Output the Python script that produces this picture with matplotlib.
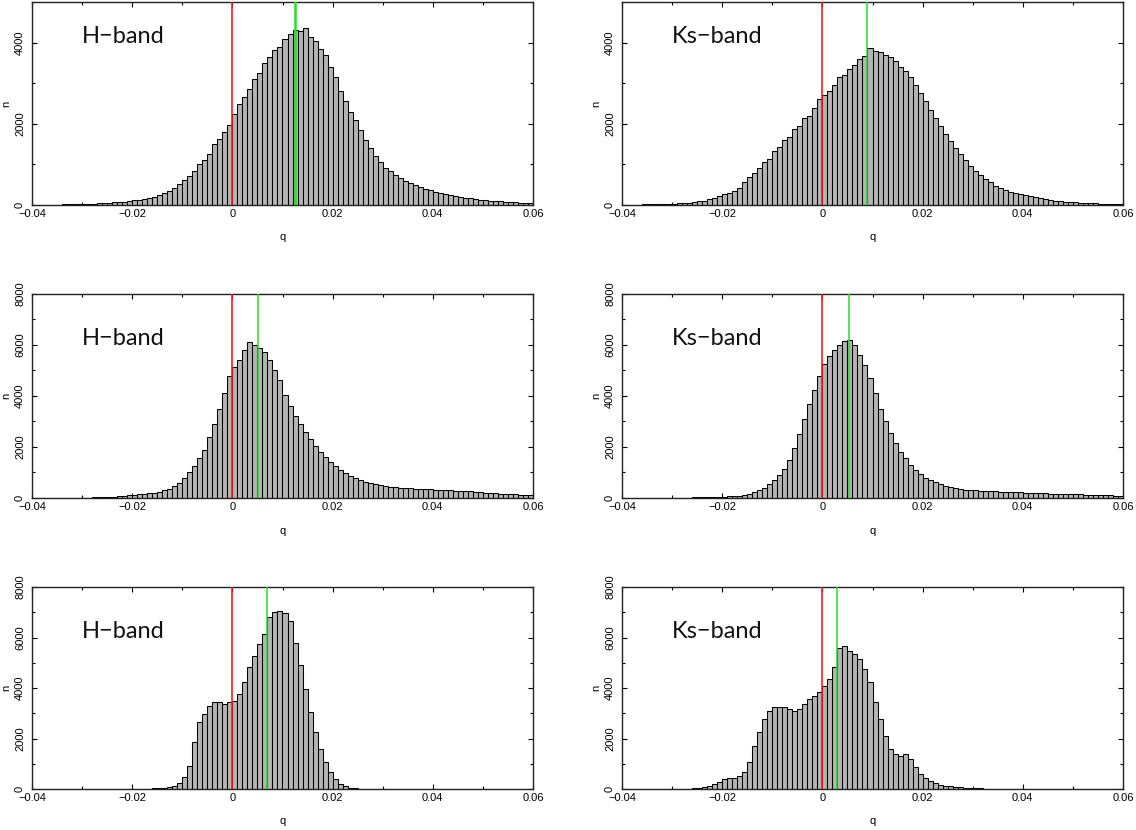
from __future__ import annotations

import numpy as np
import matplotlib
matplotlib.use("Agg")
import matplotlib.pyplot as plt

# ============================================================
# DATA  (counts per 0.001 bin, q from -0.04 to 0.06)
# ============================================================

Q_MIN = -0.04
Q_MAX = 0.06
N_BINS = 100

H_TOP = [
    5, 6, 7, 8, 10, 12, 14, 16, 19, 22,
    26, 30, 35, 42, 48, 55, 63, 72, 85, 100,
    115, 135, 155, 175, 200, 240, 290, 350, 420, 510,
    620, 720, 830, 1000, 1100, 1250, 1500, 1620, 1800, 1960,
    2250, 2480, 2650, 2850, 3100, 3250, 3500, 3650, 3830, 3900,
    4100, 4200, 4300, 4280, 4350, 4150, 4050, 3850, 3700, 3400,
    3150, 2800, 2550, 2300, 2100, 1850, 1600, 1400, 1200, 1050,
    920, 830, 740, 670, 600, 540, 490, 440, 400, 360,
    330, 300, 270, 245, 220, 200, 180, 165, 150, 135,
    122, 110, 100, 90, 82, 74, 67, 60, 54, 48,
]

KS_TOP = [
    8, 9, 10, 12, 14, 16, 18, 21, 24, 28,
    32, 38, 45, 55, 70, 90, 110, 140, 175, 215,
    270, 290, 350, 430, 560, 700, 780, 920, 1050, 1130,
    1330, 1420, 1600, 1680, 1880, 1950, 2150, 2200, 2400, 2620,
    2720, 2800, 2950, 3150, 3200, 3350, 3450, 3600, 3680, 3870,
    3800, 3780, 3700, 3650, 3550, 3400, 3300, 3150, 2950, 2750,
    2550, 2350, 2150, 1950, 1750, 1580, 1400, 1250, 1100, 960,
    840, 730, 640, 560, 480, 420, 370, 330, 300, 270,
    240, 215, 190, 165, 145, 125, 110, 95, 85, 75,
    66, 58, 51, 45, 40, 36, 32, 28, 25, 22,
]

H_MID = [
    3, 3, 4, 4, 5, 6, 7, 8, 9, 10,
    14, 16, 20, 25, 32, 40, 50, 65, 80, 100,
    120, 140, 160, 185, 210, 250, 300, 370, 460, 600,
    800, 1000, 1250, 1550, 1900, 2400, 2900, 3500, 4100, 4800,
    5150, 5420, 5800, 6130, 6000, 5870, 5740, 5420, 5020, 4630,
    4050, 3590, 3200, 2900, 2600, 2300, 2050, 1800, 1600, 1400,
    1250, 1100, 980, 880, 790, 710, 640, 590, 550, 510,
    480, 450, 430, 410, 390, 380, 370, 360, 350, 340,
    330, 320, 310, 300, 290, 280, 270, 255, 240, 230,
    215, 200, 190, 175, 165, 150, 140, 130, 120, 110,
]

KS_MID = [
    2, 3, 3, 4, 4, 5, 6, 7, 8, 9,
    10, 12, 14, 17, 20, 24, 28, 33, 38, 44,
    50, 60, 75, 95, 125, 165, 220, 300, 400, 530,
    700, 900, 1150, 1500, 1950, 2500, 3100, 3700, 4250, 4800,
    5250, 5550, 5800, 6000, 6150, 6200, 6000, 5600, 5200, 4700,
    4100, 3500, 3000, 2550, 2150, 1800, 1550, 1300, 1100, 940,
    800, 700, 610, 540, 480, 430, 390, 360, 330, 310,
    300, 290, 280, 270, 260, 250, 240, 232, 225, 218,
    210, 203, 196, 190, 183, 176, 170, 163, 156, 150,
    144, 138, 132, 126, 120, 114, 108, 102, 96, 90,
]

H_BOT = [
    2, 2, 2, 3, 3, 3, 3, 4, 4, 4,
    4, 5, 5, 5, 6, 6, 7, 7, 8, 9,
    10, 12, 14, 17, 22, 30, 45, 70, 130, 240,
    460, 920, 1850, 2640, 2970, 3300, 3430, 3460, 3370, 3430,
    3500, 3760, 4220, 4820, 5280, 5740, 6140, 6800, 7000, 7060,
    6980, 6670, 5800, 4900, 3950, 3050, 2250, 1600, 1070, 660,
    400, 210, 110, 55, 30, 18, 12, 9, 7, 6,
    5, 5, 4, 4, 4, 3, 3, 3, 3, 3,
    3, 2, 2, 2, 2, 2, 2, 2, 2, 2,
    2, 2, 1, 1, 1, 1, 1, 1, 1, 1,
]

KS_BOT = [
    2, 2, 3, 3, 4, 4, 5, 6, 7, 8,
    8, 10, 12, 15, 20, 30, 60, 130, 210, 290,
    400, 435, 435, 530, 660, 1060, 1720, 2240, 2770, 3100,
    3240, 3260, 3240, 3160, 3100, 3170, 3370, 3560, 3700, 3850,
    4090, 4360, 4820, 5600, 5680, 5480, 5350, 5150, 4750, 4220,
    3430, 2770, 2110, 1580, 1390, 1320, 1390, 1190, 860, 590,
    420, 330, 240, 170, 130, 105, 80, 60, 45, 35,
    28, 22, 18, 15, 12, 10, 9, 8, 7, 6,
    6, 5, 5, 5, 4, 4, 4, 4, 3, 3,
    3, 3, 3, 3, 2, 2, 2, 2, 2, 2,
]

# q of the green marker in each panel (red marker is always q = 0)
GREEN_Q = [0.0124, 0.0090, 0.0051, 0.0054, 0.0069, 0.0030]
RED_Q = 0.0

BAND_LABELS = ["H\u2212band", "Ks\u2212band"] * 3

XTICKS = [-0.04, -0.02, 0.0, 0.02, 0.04, 0.06]
XTICKLABELS = ["\u22120.04", "\u22120.02", "0", "0.02", "0.04", "0.06"]

YTICKS_TOP = [0, 2000, 4000]
YTICKS_LOW = [0, 2000, 4000, 6000, 8000]
YMAX = [5000, 5000, 8000, 8000, 8000, 8000]

# ============================================================
# LAYOUT (pixels of the 1136x830 output)
# ============================================================

W, H = 1136, 830
COLS = [(32, 501), (622, 501)]             # left, width
ROWS = [(2, 205), (294, 498), (587, 789)]  # top, bottom

TICK_FONT = "Liberation Sans"
LABEL_FONT = "Lato"


def make_axes(fig, row, col):
    left, width = COLS[col]
    top, bottom = ROWS[row]
    rect = [left / W, (H - bottom) / H, width / W, (bottom - top) / H]
    return fig.add_axes(rect)


def draw_panel(ax, counts, green_q, label, ymax, yticks, label_y):
    edges = np.linspace(Q_MIN, Q_MAX, N_BINS + 1)
    width = edges[1] - edges[0]
    centers = edges[:-1] + width / 2

    ax.bar(centers, counts, width=width, color="#b4b4b4",
           edgecolor="black", linewidth=0.75, zorder=2)

    ax.axvline(RED_Q, color="#ff1a1a", linewidth=1.2, zorder=3)
    ax.axvline(green_q, color="#22e022",
               linewidth=1.8 if green_q > 0.012 else 1.1, zorder=3)

    ax.set_xlim(Q_MIN, Q_MAX)
    ax.set_ylim(0, ymax)

    ax.set_xticks(XTICKS)
    ax.set_xticklabels(XTICKLABELS, fontfamily=TICK_FONT, fontsize=8)
    ax.set_xticks(np.arange(-0.04, 0.0601, 0.01), minor=True)

    ax.set_yticks(yticks)
    ax.set_yticklabels([str(t) for t in yticks], fontfamily=TICK_FONT,
                       fontsize=8, rotation=90, va="center")
    ax.set_yticks(np.arange(0, ymax + 1, 1000), minor=True)

    ax.tick_params(which="both", direction="in", top=True, right=True,
                   width=0.8, color="black")
    ax.tick_params(which="major", length=3.6)
    ax.tick_params(which="minor", length=2.0)
    ax.tick_params(axis="x", pad=3)
    ax.tick_params(axis="y", pad=5)

    for sp in ax.spines.values():
        sp.set_linewidth(1.0)
        sp.set_color("#222222")

    ax.set_xlabel("q", fontfamily=TICK_FONT, fontsize=8)
    ax.xaxis.set_label_coords(0.5, -0.135)
    ax.set_ylabel("n", fontfamily=TICK_FONT, fontsize=8)
    ax.yaxis.set_label_coords(-0.042, 0.5)

    ax.text(0.10, label_y, label, transform=ax.transAxes,
            fontfamily=LABEL_FONT, fontsize=17,
            va="center", ha="left", color="#111111", zorder=4)


def main() -> None:
    panels = [H_TOP, KS_TOP, H_MID, KS_MID, H_BOT, KS_BOT]
    for p in panels:
        assert len(p) == N_BINS, len(p)

    fig = plt.figure(figsize=(W / 100, H / 100), dpi=100)

    for k, counts in enumerate(panels):
        row, col = divmod(k, 2)
        ax = make_axes(fig, row, col)
        yticks = YTICKS_TOP if row == 0 else YTICKS_LOW
        label_y = 0.83 if row == 0 else 0.78
        draw_panel(ax, counts, GREEN_Q[k], BAND_LABELS[k], YMAX[k],
                   yticks, label_y)

    fig.savefig("out.png", dpi=100)


if __name__ == "__main__":
    main()
